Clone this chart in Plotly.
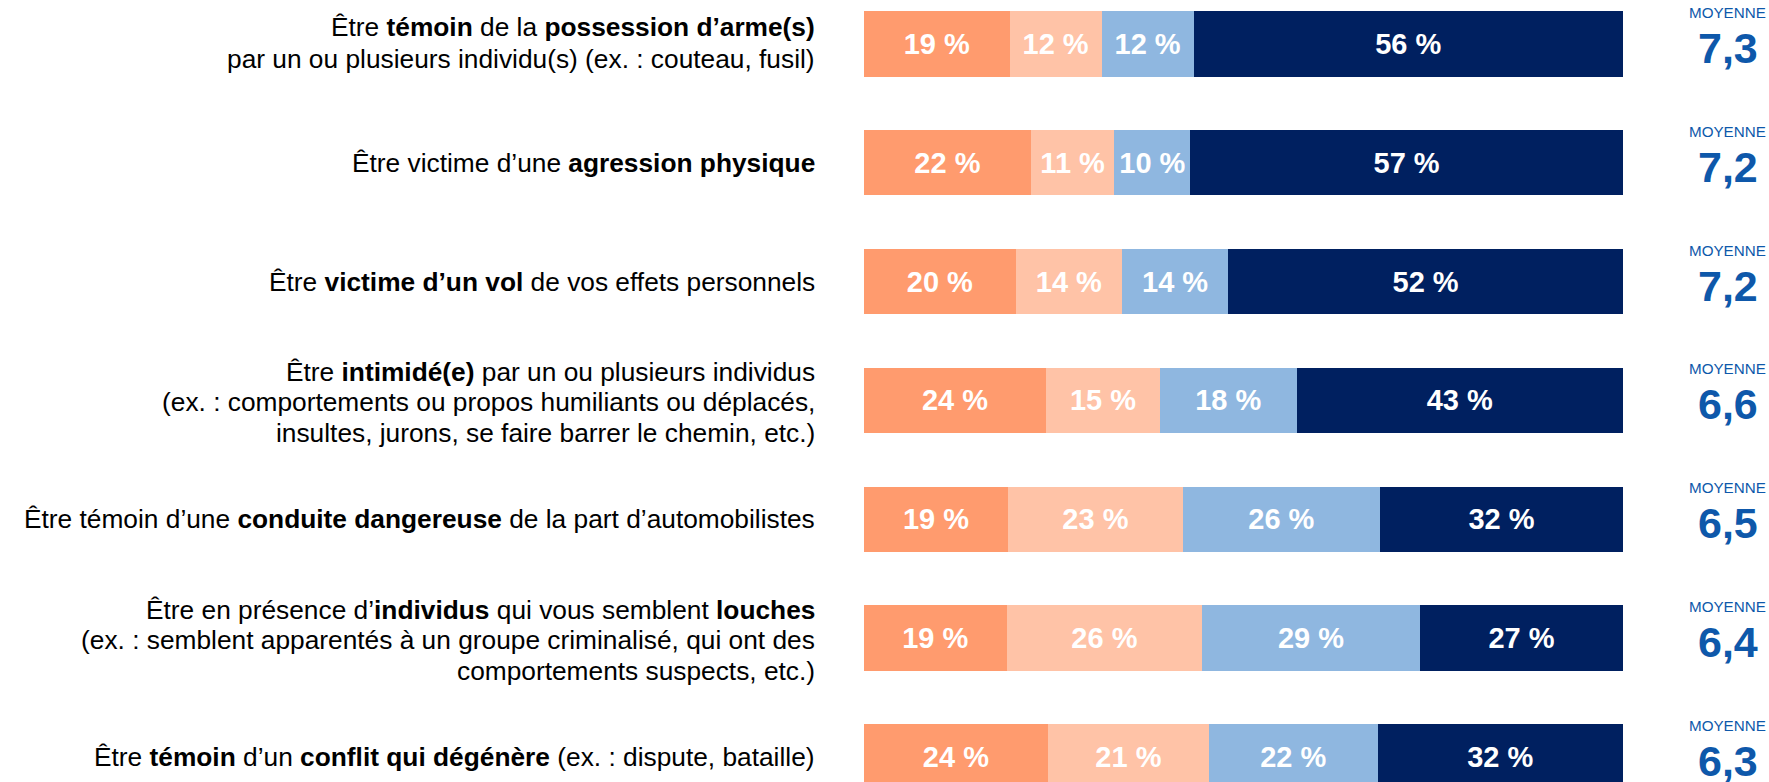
import plotly.graph_objects as go

# ---- data ----
label_lines = [
    ["Être <b>témoin</b> de la <b>possession d’arme(s)</b>",
     "par un ou plusieurs individu(s) (ex. : couteau, fusil)"],
    ["Être victime d’une <b>agression physique</b>"],
    ["Être <b>victime d’un vol</b> de vos effets personnels"],
    ["Être <b>intimidé(e)</b> par un ou plusieurs individus",
     "(ex. : comportements ou propos humiliants ou déplacés,",
     "insultes, jurons, se faire barrer le chemin, etc.)"],
    ["Être témoin d’une <b>conduite dangereuse</b> de la part d’automobilistes"],
    ["Être en présence d’<b>individus</b> qui vous semblent <b>louches</b>",
     "(ex. : semblent apparentés à un groupe criminalisé, qui ont des",
     "comportements suspects, etc.)"],
    ["Être <b>témoin</b> d’un <b>conflit qui dégénère</b> (ex. : dispute, bataille)"],
]
series_names = ["0 à 4", "5 à 6", "7 à 8", "9 à 10"]
s1 = [19, 22, 20, 24, 19, 19, 24]
s2 = [12, 11, 14, 15, 23, 26, 21]
s3 = [12, 10, 14, 18, 26, 29, 22]
s4 = [56, 57, 52, 43, 32, 27, 32]
moyennes = [7.3, 7.2, 7.2, 6.6, 6.5, 6.4, 6.3]
moyenne_label = "MOYENNE"

colors = ["#FF9B6E", "#FFC3A7", "#8FB7E0", "#002060"]
text_blue = "#0E58AA"
FONT = "Liberation Sans, Arial, Helvetica, sans-serif"

W, H = 1769, 782
ROW_PX = 118.8
rows = list(range(len(label_lines)))

fig = go.Figure()
for name, vals, col in zip(series_names, [s1, s2, s3, s4], colors):
    fig.add_trace(go.Bar(
        y=rows, x=vals, orientation="h", name=name,
        marker=dict(color=col, line=dict(width=0)),
        width=0.55,
        text=[f"{v} %" for v in vals],
        textposition="inside", insidetextanchor="middle",
        textangle=0, constraintext="none",
        textfont=dict(family=FONT, size=29, color="white", weight="bold"),
        hoverinfo="skip", showlegend=False,
    ))

annotations = []
line_gap = {1: 0.0, 2: 32.0, 3: 30.5}
center_shift = {1: 0.0, 2: -1.5, 3: 2.0}
for i, lines in enumerate(label_lines):
    n = len(lines)
    gap = line_gap[n]
    for k, ln in enumerate(lines):
        off = (k - (n - 1) / 2) * gap + center_shift[n]
        annotations.append(dict(
            x=817 / W, xref="paper", xanchor="right",
            y=i + off / ROW_PX, yref="y", yanchor="middle",
            text=ln, showarrow=False, align="right",
            font=dict(family=FONT, size=26.3, color="#000000"),
        ))
    annotations.append(dict(
        x=1727 / W, xref="paper", xanchor="center",
        y=i - 31.5 / ROW_PX, yref="y", yanchor="middle",
        text=moyenne_label, showarrow=False,
        font=dict(family=FONT, size=15.2, color=text_blue),
    ))
    annotations.append(dict(
        x=1728 / W, xref="paper", xanchor="center",
        y=i + 4 / ROW_PX, yref="y", yanchor="middle",
        text=f"<b>{moyennes[i]:.1f}</b>".replace(".", ","), showarrow=False,
        font=dict(family=FONT, size=43, color=text_blue),
    ))

ymin = -44 / ROW_PX
ymax = (H - 44) / ROW_PX
fig.update_layout(
    width=W, height=H,
    margin=dict(l=0, r=0, t=0, b=0),
    paper_bgcolor="white", plot_bgcolor="white",
    barmode="stack", barnorm="percent",
    xaxis=dict(domain=[864 / W, 1623 / W], range=[0, 100], visible=False,
               fixedrange=True),
    yaxis=dict(range=[ymax, ymin], visible=False, fixedrange=True),
    annotations=annotations,
    showlegend=False,
)

fig.write_html(
    "out.html",
    config={"displayModeBar": False},
    post_script="document.body.style.margin='0';document.body.style.overflow='hidden';",
)
